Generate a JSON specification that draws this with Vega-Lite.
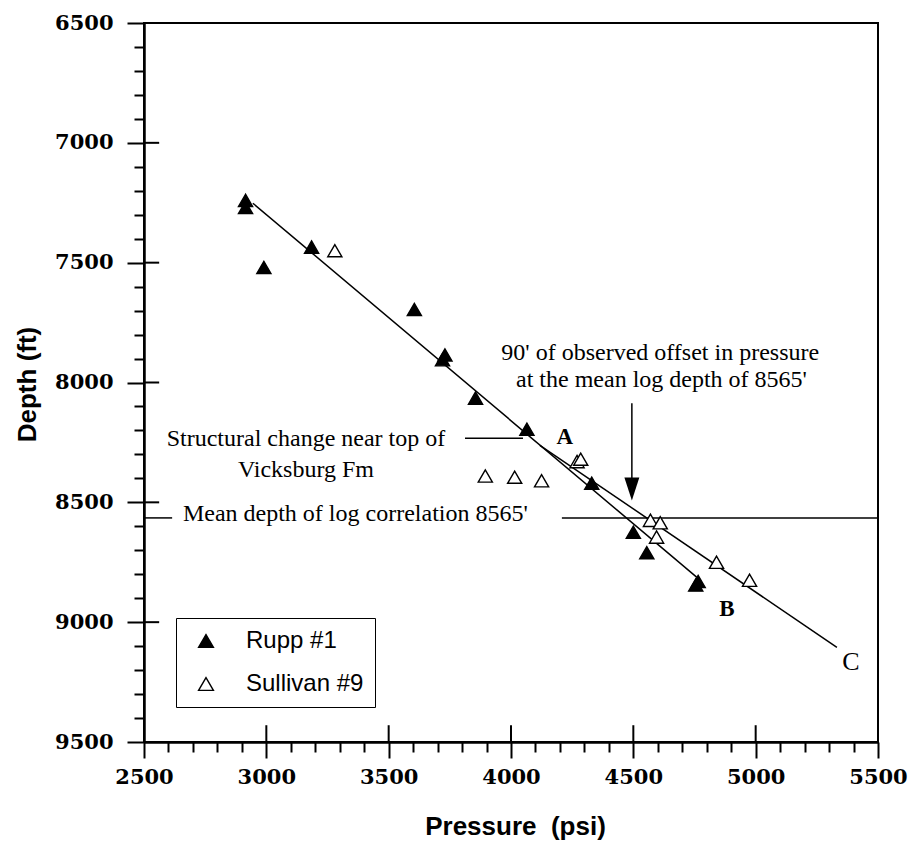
{
  "$schema": "https://vega.github.io/schema/vega-lite/v6.json",
  "autosize": "none",
  "width": 734,
  "height": 719,
  "padding": {"left": 144, "top": 23, "right": 37, "bottom": 110},
  "background": "white",
  "config": {
    "view": {"stroke": "black", "strokeWidth": 2},
    "axis": {"grid": false, "labelFlush": false, "labelOverlap": false, "tickColor": "black", "domainColor": "black", "labelColor": "black", "titleColor": "black"}
  },
  "datasets": {
    "points": [
      {"series": "Rupp #1", "p": 2915, "d": 7240},
      {"series": "Rupp #1", "p": 2915, "d": 7270},
      {"series": "Rupp #1", "p": 2990, "d": 7520},
      {"series": "Rupp #1", "p": 3185, "d": 7435},
      {"series": "Rupp #1", "p": 3605, "d": 7695},
      {"series": "Rupp #1", "p": 3730, "d": 7885},
      {"series": "Rupp #1", "p": 3720, "d": 7905},
      {"series": "Rupp #1", "p": 3855, "d": 8065},
      {"series": "Rupp #1", "p": 4065, "d": 8195},
      {"series": "Rupp #1", "p": 4330, "d": 8420},
      {"series": "Rupp #1", "p": 4500, "d": 8625},
      {"series": "Rupp #1", "p": 4555, "d": 8710},
      {"series": "Rupp #1", "p": 4755, "d": 8845},
      {"series": "Rupp #1", "p": 4765, "d": 8830},
      {"series": "Sullivan #9", "p": 3280, "d": 7450},
      {"series": "Sullivan #9", "p": 3895, "d": 8390},
      {"series": "Sullivan #9", "p": 4015, "d": 8395},
      {"series": "Sullivan #9", "p": 4125, "d": 8410},
      {"series": "Sullivan #9", "p": 4270, "d": 8330},
      {"series": "Sullivan #9", "p": 4285, "d": 8320},
      {"series": "Sullivan #9", "p": 4570, "d": 8575},
      {"series": "Sullivan #9", "p": 4610, "d": 8585},
      {"series": "Sullivan #9", "p": 4595, "d": 8645},
      {"series": "Sullivan #9", "p": 4840, "d": 8750},
      {"series": "Sullivan #9", "p": 4975, "d": 8825}
    ],
    "segments": [
      {"seg": "AB", "p1": 2945, "d1": 7252, "p2": 4760, "d2": 8813},
      {"seg": "AC", "p1": 4118, "d1": 8262, "p2": 5332, "d2": 9105},
      {"seg": "leader", "p1": 3812, "d1": 8233, "p2": 4049, "d2": 8233},
      {"seg": "mean left", "p1": 2500, "d1": 8565, "p2": 2615, "d2": 8565},
      {"seg": "mean right", "p1": 4208, "d1": 8565, "p2": 5500, "d2": 8565},
      {"seg": "arrow", "p1": 4494, "d1": 8087, "p2": 4494, "d2": 8445}
    ],
    "ticks": [
      {"p1": 3000, "d1": 9500, "p2": 3000, "d2": 9430},
      {"p1": 3500, "d1": 9500, "p2": 3500, "d2": 9430},
      {"p1": 4000, "d1": 9500, "p2": 4000, "d2": 9430},
      {"p1": 4500, "d1": 9500, "p2": 4500, "d2": 9430},
      {"p1": 5000, "d1": 9500, "p2": 5000, "d2": 9430},
      {"p1": 2500, "d1": 7000, "p2": 2562, "d2": 7000},
      {"p1": 2500, "d1": 7500, "p2": 2562, "d2": 7500},
      {"p1": 2500, "d1": 8000, "p2": 2562, "d2": 8000},
      {"p1": 2500, "d1": 8500, "p2": 2562, "d2": 8500},
      {"p1": 2500, "d1": 9000, "p2": 2562, "d2": 9000}
    ],
    "arrowhead": [{"p": 4494, "d": 8444}],
    "notes": [
      {"label": "90' of observed offset in pressure", "p": 4610, "d": 7875},
      {"label": "at the mean log depth of 8565'", "p": 4615, "d": 7990},
      {"label": "Structural change near top of", "p": 3162, "d": 8237},
      {"label": "Vicksburg Fm", "p": 3162, "d": 8366}
    ],
    "meannote": [{"label": "Mean depth of log correlation 8565'", "p": 2659, "d": 8548}],
    "boldletters": [
      {"label": "A", "p": 4220, "d": 8229},
      {"label": "B", "p": 4883, "d": 8943}
    ],
    "plainletters": [{"label": "C", "p": 5389, "d": 9168}]
  },
  "resolve": {"axis": {"x": "independent", "y": "independent"}},
  "layer": [
    {
      "data": {"name": "segments"},
      "mark": {"type": "rule", "stroke": "black", "strokeWidth": 1.5},
      "encoding": {
        "x": {"field": "p1", "type": "quantitative", "scale": {"domain": [2500, 5500], "nice": false, "zero": false},
          "axis": {"orient": "bottom", "values": [2600, 2700, 2800, 2900, 3100, 3200, 3300, 3400, 3600, 3700, 3800, 3900, 4100, 4200, 4300, 4400, 4600, 4700, 4800, 4900, 5100, 5200, 5300, 5400], "tickSize": 10, "tickWidth": 2, "labels": false, "domain": false, "title": null}},
        "y": {"field": "d1", "type": "quantitative", "scale": {"domain": [6500, 9500], "reverse": true, "nice": false, "zero": false},
          "axis": {"orient": "left", "values": [6600, 6700, 6800, 6900, 7100, 7200, 7300, 7400, 7600, 7700, 7800, 7900, 8100, 8200, 8300, 8400, 8600, 8700, 8800, 8900, 9100, 9200, 9300, 9400], "tickSize": 10, "tickWidth": 2, "labels": false, "domain": false, "title": null}},
        "x2": {"field": "p2"},
        "y2": {"field": "d2"}
      }
    },
    {
      "data": {"name": "ticks"},
      "mark": {"type": "rule", "stroke": "black", "strokeWidth": 2},
      "encoding": {
        "x": {"field": "p1", "type": "quantitative", "axis": null},
        "y": {"field": "d1", "type": "quantitative", "axis": null},
        "x2": {"field": "p2"},
        "y2": {"field": "d2"}
      }
    },
    {
      "data": {"name": "arrowhead"},
      "mark": {"type": "point", "shape": "M-0.65,-1L0.65,-1L0,1Z", "size": 529, "filled": true, "fill": "black", "strokeWidth": 0, "opacity": 1},
      "encoding": {
        "x": {"field": "p", "type": "quantitative", "axis": null},
        "y": {"field": "d", "type": "quantitative", "axis": null}
      }
    },
    {
      "data": {"name": "points"},
      "mark": {"type": "point", "shape": "triangle-up", "size": 200, "filled": true, "stroke": "black", "strokeWidth": 1.4, "opacity": 1},
      "encoding": {
        "x": {"field": "p", "type": "quantitative",
          "axis": {"orient": "bottom", "values": [2500, 3000, 3500, 4000, 4500, 5000, 5500], "format": "d", "tickSize": 16, "tickWidth": 2, "domainWidth": 2.5,
            "labelFont": "DejaVu Serif", "labelFontWeight": "bold", "labelFontSize": 21, "labelPadding": 8,
            "title": "Pressure\u00a0 (psi)", "titleFont": "Liberation Sans", "titleFontWeight": "bold", "titleFontSize": 26,
            "titleX": 371, "titleY": 84, "titleBaseline": "middle", "titleAlign": "center"}},
        "y": {"field": "d", "type": "quantitative",
          "axis": {"orient": "left", "values": [6500, 7000, 7500, 8000, 8500, 9000, 9500], "format": "d", "tickSize": 17, "tickWidth": 2, "domainWidth": 2.5,
            "labelFont": "DejaVu Serif", "labelFontWeight": "bold", "labelFontSize": 21, "labelPadding": 14,
            "title": "Depth (ft)", "titleFont": "Liberation Sans", "titleFontWeight": "bold", "titleFontSize": 26,
            "titleAngle": -90, "titleX": -117, "titleY": 361, "titleBaseline": "middle", "titleAlign": "center"}},
        "fill": {"field": "series", "type": "nominal", "scale": {"domain": ["Rupp #1", "Sullivan #9"], "range": ["black", "white"]},
          "legend": {"orient": "none", "legendX": 32, "legendY": 595, "title": null, "strokeColor": "black", "padding": 11, "fillColor": "white",
            "symbolType": "triangle-up", "symbolSize": 220, "symbolStrokeColor": "black", "symbolStrokeWidth": 1.4, "symbolOffset": 7,
            "labelFont": "Liberation Sans", "labelFontSize": 24, "labelColor": "black", "labelOffset": 28, "rowPadding": 19}}
      }
    },
    {
      "data": {"name": "notes"},
      "mark": {"type": "text", "font": "Liberation Serif", "fontSize": 24, "align": "center", "baseline": "middle", "color": "black"},
      "encoding": {
        "x": {"field": "p", "type": "quantitative", "axis": null},
        "y": {"field": "d", "type": "quantitative", "axis": null},
        "text": {"field": "label"}
      }
    },
    {
      "data": {"name": "meannote"},
      "mark": {"type": "text", "font": "Liberation Serif", "fontSize": 24, "align": "left", "baseline": "middle", "color": "black"},
      "encoding": {
        "x": {"field": "p", "type": "quantitative", "axis": null},
        "y": {"field": "d", "type": "quantitative", "axis": null},
        "text": {"field": "label"}
      }
    },
    {
      "data": {"name": "boldletters"},
      "mark": {"type": "text", "font": "Liberation Serif", "fontSize": 23, "fontWeight": "bold", "align": "center", "baseline": "middle", "color": "black"},
      "encoding": {
        "x": {"field": "p", "type": "quantitative", "axis": null},
        "y": {"field": "d", "type": "quantitative", "axis": null},
        "text": {"field": "label"}
      }
    },
    {
      "data": {"name": "plainletters"},
      "mark": {"type": "text", "font": "Liberation Serif", "fontSize": 26, "align": "center", "baseline": "middle", "color": "black"},
      "encoding": {
        "x": {"field": "p", "type": "quantitative", "axis": null},
        "y": {"field": "d", "type": "quantitative", "axis": null},
        "text": {"field": "label"}
      }
    }
  ]
}
